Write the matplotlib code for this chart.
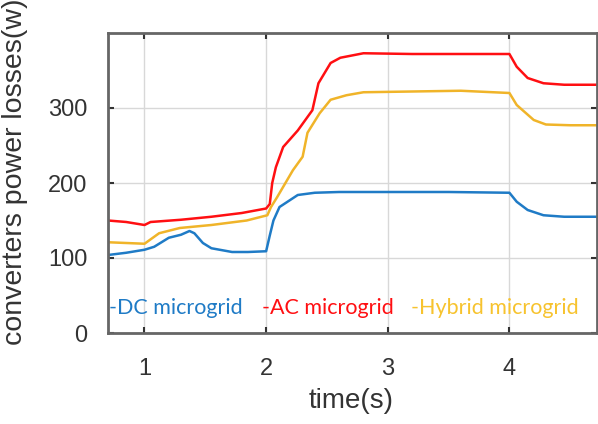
import matplotlib
matplotlib.use("Agg")
import matplotlib.pyplot as plt

# Values (time in s, losses in W)
dc_t = [0.70, 0.85, 1.00, 1.08, 1.20, 1.30, 1.37, 1.41, 1.48, 1.55, 1.72, 1.85, 2.00, 2.03, 2.06, 2.11, 2.26, 2.40, 2.60, 3.00, 3.50, 4.00, 4.06, 4.15, 4.28, 4.45, 4.72]
dc_v = [104, 107, 111, 115, 127, 131, 136, 133, 120, 113, 108, 108, 109, 130, 150, 168, 184, 187, 188, 188, 188, 187, 175, 164, 157, 155, 155]

ac_t = [0.70, 0.85, 1.00, 1.05, 1.30, 1.55, 1.80, 2.00, 2.03, 2.05, 2.08, 2.14, 2.26, 2.38, 2.43, 2.53, 2.61, 2.80, 3.20, 3.60, 4.00, 4.06, 4.15, 4.28, 4.45, 4.72]
ac_v = [150, 148, 144, 148, 151, 155, 160, 166, 172, 200, 221, 248, 270, 297, 333, 360, 367, 373, 372, 372, 372, 355, 340, 333, 331, 331]

hy_t = [0.70, 0.85, 1.00, 1.12, 1.29, 1.55, 1.84, 2.01, 2.04, 2.09, 2.22, 2.30, 2.34, 2.44, 2.53, 2.66, 2.80, 3.20, 3.60, 4.00, 4.06, 4.20, 4.30, 4.50, 4.72]
hy_v = [121, 120, 119, 133, 140, 144, 150, 157, 168, 181, 217, 235, 267, 293, 311, 317, 321, 322, 323, 320, 304, 284, 278, 277, 277]

x_ticks = [1, 2, 3, 4]
y_ticks = [0, 100, 200, 300]

BLUE = "#1f7bc6"
RED = "#ff0f12"
YELLOW = "#f0b429"

fig = plt.figure(figsize=(5.98, 4.24), dpi=100)
ax = fig.add_axes([108 / 598, 91 / 424, 489 / 598, 300 / 424])

ax.plot(dc_t, dc_v, color=BLUE, lw=1.8)
ax.plot(ac_t, ac_v, color=RED, lw=1.8)
ax.plot(hy_t, hy_v, color=YELLOW, lw=1.8)

ax.set_xlim(0.70, 4.72)
ax.set_ylim(0, 400)
ax.set_xticks(x_ticks)
ax.set_yticks(y_ticks)
ax.grid(True, color="#d8d8d8", lw=1)
ax.tick_params(direction="in", top=True, right=True, length=4, width=1.5,
               labelsize=17, colors="#333333")
ax.tick_params(axis="y", pad=15)
ax.tick_params(axis="x", pad=18)
for lab in ax.get_xticklabels() + ax.get_yticklabels():
    lab.set_family("Liberation Sans")
for s in ax.spines.values():
    s.set_color("#666666")
    s.set_linewidth(2)

ax.set_xlabel("time(s)", fontsize=20, family="Liberation Sans", color="#333333")
ax.xaxis.set_label_coords((351 - 108) / 489, -0.185)
ax.set_ylabel("converters power losses(w)", fontsize=20.5, family="Liberation Sans",
              color="#333333")
ax.yaxis.set_label_coords(-0.164, 0.537)

# in-plot legend texts
ax.text(0.71, 33, "-DC microgrid", color=BLUE, fontsize=15.5, family="Lato", va="center")
ax.text(1.963, 33, "-AC microgrid", color=RED, fontsize=15.5, family="Lato", va="center")
ax.text(3.19, 33, "-Hybrid microgrid", color="#f7c32e", fontsize=15.5, family="Lato", va="center")

fig.savefig("out.png", dpi=100)
